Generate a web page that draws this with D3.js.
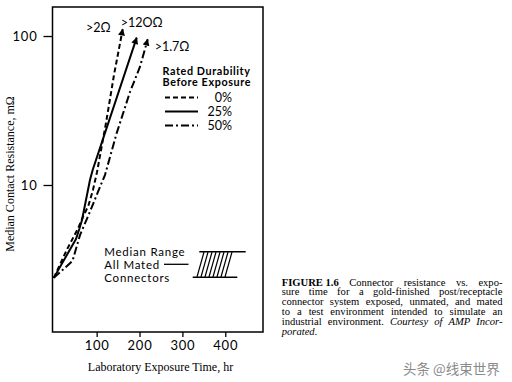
<!DOCTYPE html>
<html><head><meta charset="utf-8">
<script src="https://cdn.jsdelivr.net/npm/d3@7"></script>
<style>body{margin:0;background:#fff}svg{display:block}</style>
</head><body>
<svg id="c" width="512" height="382"></svg>
<script>
// ---- data ----
const hours0   = [0, 30, 42.5, 57, 70, 80.5, 91.4, 100.8, 121.8, 140.4, 160.7];
const resist0  = [2.38, 3.66, 4.28, 5.14, 6.29, 7.23, 9.25, 12.2, 26.1, 54.7, 111];
const hours25  = [0, 51.8, 59.5, 65.8, 84.4, 90.7, 193.4];
const resist25 = [2.38, 4.34, 5.07, 5.82, 10.8, 12.6, 97.5];
const hours50  = [0, 43.6, 61.1, 84.4, 100.1, 119.5, 146.7, 177.7, 201.1, 219];
const resist50 = [2.38, 3.09, 4.61, 6.62, 8.57, 11.7, 22.3, 42.1, 62.2, 95];
const seriesNames = ["0%", "25%", "50%"];
const endLabels = [">2Ω", ">12OΩ", ">1.7Ω"];
const xTicks = [100, 200, 300, 400];
const yTicks = [10, 100];
const legendTitle = ["Rated Durability", "Before Exposure"];
const rangeLabel = ["Median Range", "All Mated", "Connectors"];
const yTitle = "Median Contact Resistance, mΩ";
const xTitle = "Laboratory Exposure Time, hr";
const caption = [
  [["FIGURE 1.6", "b"], ["Connector", ""], ["resistance", ""], ["vs.", ""], ["expo-", ""]],
  [["sure",""],["time",""],["for",""],["a",""],["gold-finished",""],["post/receptacle",""]],
  [["connector",""],["system",""],["exposed,",""],["unmated,",""],["and",""],["mated",""]],
  [["to",""],["a",""],["test",""],["environment",""],["intended",""],["to",""],["simulate",""],["an",""]],
  [["industrial",""],["environment.",""],["Courtesy","i"],["of","i"],["AMP","i"],["Incor-","i"]],
  [["porated.","i"]]
];
const watermark = "头条 @线束世界";

// ---- layout ----
const svg = d3.select("#c");
const L = 52.5, R = 263, T = 7, B = 332;
const x = d3.scaleLinear().domain([-3, 488]).range([L, R]);
const y = d3.scaleLog().domain([1.031, 156.6]).range([B, T]);
const sans = "Lato, 'Open Sans', sans-serif";
const serif = "'Liberation Serif', 'Times New Roman', serif";

// arrow marker
svg.append("defs").append("marker")
  .attr("id", "arr").attr("viewBox", "0 0 10 10")
  .attr("refX", 9).attr("refY", 5)
  .attr("markerWidth", 8).attr("markerHeight", 7)
  .attr("markerUnits", "userSpaceOnUse").attr("orient", "auto")
  .append("path").attr("d", "M0,0 L10,5 L0,10 Z").attr("fill", "#000");

// frame
svg.append("rect").attr("x", L).attr("y", T).attr("width", R - L).attr("height", B - T)
  .attr("fill", "none").attr("stroke", "#000").attr("stroke-width", 1.5);

// axes
const ya = svg.append("g").attr("transform", `translate(${L},0)`)
  .call(d3.axisLeft(y).tickValues(yTicks).tickSize(9).tickPadding(6).tickFormat(d3.format("d")));
const xa = svg.append("g").attr("transform", `translate(0,${B})`)
  .call(d3.axisBottom(x).tickValues(xTicks).tickSize(5).tickPadding(4).tickFormat(d3.format("d")));
[ya, xa].forEach(g => {
  g.select(".domain").remove();
  g.selectAll("line").attr("stroke", "#000").attr("stroke-width", 1.3);
  g.selectAll("text").attr("font-family", sans).attr("font-size", 13)
    .attr("letter-spacing", 0.8).attr("fill", "#000");
});

// series
const series = [
  {h: hours0, r: resist0, dash: "5,3"},
  {h: hours25, r: resist25, dash: null},
  {h: hours50, r: resist50, dash: "8,3,2,3"}
];
const line = d3.line().x(d => x(d[0])).y(d => y(d[1]));
series.forEach(s => {
  const pts = s.h.map((h, i) => [h, s.r[i]]);
  svg.append("path").attr("d", line(pts)).attr("fill", "none")
    .attr("stroke", "#000").attr("stroke-width", 2)
    .attr("stroke-dasharray", s.dash).attr("marker-end", "url(#arr)");
  s.tip = pts[pts.length - 1];
});

// end labels
const lblOff = [[-12, 3, "end"], [-16, -11, "start"], [7, 12, "start"]];
series.forEach((s, i) => {
  svg.append("text").text(endLabels[i])
    .attr("x", x(s.tip[0]) + lblOff[i][0]).attr("y", y(s.tip[1]) + lblOff[i][1])
    .attr("text-anchor", lblOff[i][2])
    .attr("font-family", sans).attr("font-size", 12.5).attr("fill", "#000");
});

// legend
legendTitle.forEach((t, i) => {
  svg.append("text").text(t).attr("x", 162.5).attr("y", 74.8 + i * 11.5)
    .attr("font-family", sans).attr("font-weight", "bold")
    .attr("font-size", 10.8).attr("letter-spacing", 0.6).attr("fill", "#000");
});
seriesNames.forEach((n, i) => {
  const yy = 97.5 + i * 14;
  svg.append("line").attr("x1", 165).attr("x2", 198).attr("y1", yy).attr("y2", yy)
    .attr("stroke", "#000").attr("stroke-width", 2).attr("stroke-dasharray", series[i].dash);
  svg.append("text").text(n).attr("x", 232).attr("y", yy + 4.5).attr("text-anchor", "end")
    .attr("font-family", sans).attr("font-size", 12.5).attr("fill", "#000");
});

// median range note
rangeLabel.forEach((t, i) => {
  svg.append("text").text(t).attr("x", 104.3).attr("y", 255.8 + i * 13.2)
    .attr("font-family", sans).attr("font-size", 11.5).attr("letter-spacing", 0.75)
    .attr("fill", "#000");
});
svg.append("line").attr("x1", 164).attr("x2", 188.5).attr("y1", 264.3).attr("y2", 264.3)
  .attr("stroke", "#000").attr("stroke-width", 1.3);
svg.append("line").attr("x1", 199.3).attr("x2", 245.7).attr("y1", 251.7).attr("y2", 251.7)
  .attr("stroke", "#000").attr("stroke-width", 1.5);
svg.append("line").attr("x1", 192.7).attr("x2", 237.3).attr("y1", 277.3).attr("y2", 277.3)
  .attr("stroke", "#000").attr("stroke-width", 1.5);
d3.range(8).forEach(k => {
  const xt = 204 + k * 4;
  svg.append("line").attr("x1", xt).attr("y1", 252).attr("x2", xt - 7).attr("y2", 277)
    .attr("stroke", "#000").attr("stroke-width", 1.2);
});

// axis titles
svg.append("text").text(yTitle)
  .attr("transform", "translate(14,174) rotate(-90)").attr("text-anchor", "middle")
  .attr("font-family", serif).attr("font-size", 12).attr("fill", "#000");
svg.append("text").text(xTitle).attr("x", 160.5).attr("y", 371).attr("text-anchor", "middle")
  .attr("font-family", serif).attr("font-size", 12).attr("fill", "#000");

// caption (justified)
const cx0 = 281.7, cx1 = 502.5;
caption.forEach((words, li) => {
  const by = 285.5 + li * 9.8;
  const nodes = words.map(([w, st]) => svg.append("text").text(w).attr("y", by)
    .attr("font-family", serif).attr("font-size", 10.6).attr("fill", "#000")
    .attr("font-weight", st === "b" ? "bold" : null)
    .attr("font-style", st === "i" ? "italic" : null));
  const widths = nodes.map(n => n.node().getComputedTextLength());
  const total = d3.sum(widths);
  const last = li === caption.length - 1;
  const gap = last || nodes.length < 2 ? 2.8 : (cx1 - cx0 - total) / (nodes.length - 1);
  let cx = cx0;
  nodes.forEach((n, i) => { n.attr("x", cx); cx += widths[i] + gap; });
});

// watermark
svg.append("text").text(watermark).attr("x", 403).attr("y", 374)
  .attr("font-family", "'Noto Sans CJK SC', sans-serif").attr("font-size", 13.5)
  .attr("fill", "#8a8a8a");
</script>
</body></html>
